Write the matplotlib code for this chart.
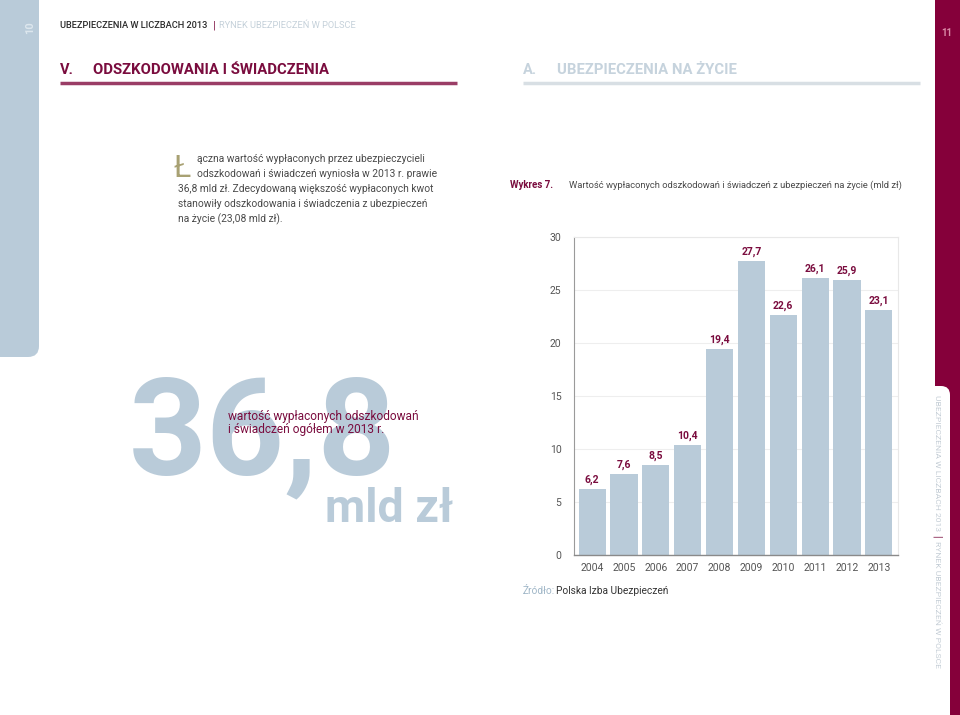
import matplotlib.pyplot as plt
from matplotlib.patches import FancyBboxPatch, Rectangle

# dane wykresu 7
lata = ['2004', '2005', '2006', '2007', '2008', '2009', '2010', '2011', '2012', '2013']
wartosci = [6.2, 7.6, 8.5, 10.4, 19.4, 27.7, 22.6, 26.1, 25.9, 23.1]
os_y = [0, 5, 10, 15, 20, 25, 30]

NIEBIESKI = '#b9cbd9'
BORDO = '#7a0c3e'
PASEK = '#85003a'
SZARY = '#4a4a4a'

plt.rcParams['font.family'] = ['Roboto', 'DejaVu Sans']

fig = plt.figure(figsize=(9.6, 7.15), dpi=100)

# tlo strony w pikselach
bg = fig.add_axes([0, 0, 1, 1])
bg.set_xlim(0, 960)
bg.set_ylim(715, 0)
bg.axis('off')

# paski boczne
bg.add_patch(FancyBboxPatch((-30, -30), 69, 387, boxstyle='round,pad=0,rounding_size=11',
                            fc=NIEBIESKI, ec='none'))
bg.add_patch(Rectangle((935, -5), 30, 730, fc=PASEK, ec='none'))
bg.add_patch(FancyBboxPatch((900, 386), 50, 360, boxstyle='round,pad=0,rounding_size=9',
                            fc='white', ec='none'))
bg.text(30, 28, '10', rotation=90, ha='center', va='center', fontsize=8, fontweight='bold', color='#dde7ee')
bg.text(947, 33, '11', ha='center', va='center', fontsize=7, fontweight='bold', color='#d98aa6')

# naglowek
bg.text(60, 25, 'UBEZPIECZENIA W LICZBACH 2013', ha='left', va='center', fontsize=6.7,
        fontweight='medium', color='#2a2a2a')
bg.text(214, 25, '|', ha='center', va='center', fontsize=8, color=BORDO)
bg.text(219, 25, 'RYNEK UBEZPIECZEŃ W POLSCE', ha='left', va='center', fontsize=6.7, color='#c5d1da')

bg.text(60, 70, 'V.', ha='left', va='center', fontsize=10.5, fontweight='bold', color=BORDO)
bg.text(93, 70, 'ODSZKODOWANIA I ŚWIADCZENIA', ha='left', va='center', fontsize=10.7,
        fontweight='bold', color=BORDO)
bg.plot([60, 457], [83, 83], color='#9a3d66', lw=2.5, solid_capstyle='butt')

bg.text(523, 70, 'A.', ha='left', va='center', fontsize=10.5, fontweight='bold', color='#c6d3dd')
bg.text(557, 70, 'UBEZPIECZENIA NA ŻYCIE', ha='left', va='center', fontsize=10.7,
        fontweight='bold', color='#c6d3dd')
bg.plot([523, 920], [83, 83], color='#d8dfe4', lw=2.5, solid_capstyle='butt')

# akapit z inicjalem
bg.text(173, 177, 'Ł', ha='left', va='baseline', fontsize=23, color='#a8a173')
akapit = [
    (197, 'ączna wartość wypłaconych przez ubezpieczycieli'),
    (197, 'odszkodowań i świadczeń wyniosła w 2013 r. prawie'),
    (178, '36,8 mld zł. Zdecydowaną większość wypłaconych kwot'),
    (178, 'stanowiły odszkodowania i świadczenia z ubezpieczeń'),
    (178, 'na życie (23,08 mld zł).'),
]
for i, (x, linia) in enumerate(akapit):
    bg.text(x, 162 + i * 15, linia, ha='left', va='baseline', fontsize=7.35, color=SZARY)

# duza liczba
bg.text(129, 474, '36,8', ha='left', va='baseline', fontsize=98, fontweight='bold', color=NIEBIESKI)
bg.text(325, 522, 'mld zł', ha='left', va='baseline', fontsize=33.5, fontweight='bold', color=NIEBIESKI)
bg.text(228, 420, 'wartość wypłaconych odszkodowań', ha='left', va='baseline', fontsize=8.6, color=BORDO)
bg.text(228, 433, 'i świadczeń ogółem w 2013 r.', ha='left', va='baseline', fontsize=8.6, color=BORDO)

# tytul wykresu
bg.text(510, 185, 'Wykres 7.', ha='left', va='center', fontsize=7, fontweight='bold', color=BORDO)
bg.text(569, 185, 'Wartość wypłaconych odszkodowań i świadczeń z ubezpieczeń na życie (mld zł)',
        ha='left', va='center', fontsize=6.75, color=SZARY)

# zrodlo
bg.text(523, 591, 'Źródło:', ha='left', va='center', fontsize=7.3, color='#9fb6c7')
bg.text(556, 591, 'Polska Izba Ubezpieczeń', ha='left', va='center', fontsize=7.3, color='#333333')

# tekst pionowy
bg.text(937, 395, 'UBEZPIECZENIA W LICZBACH 2013', rotation=-90, ha='center', va='top',
        fontsize=6.1, color='#c5ced6')
bg.text(937, 536, '|', rotation=-90, ha='center', va='center', fontsize=7, color=BORDO)
bg.text(937, 541, 'RYNEK UBEZPIECZEŃ W POLSCE', rotation=-90, ha='center', va='top',
        fontsize=6.1, color='#c5ced6')

# wykres slupkowy
ax = fig.add_axes([574 / 960, 1 - 555 / 715, 324 / 960, 318 / 715])
x = list(range(len(lata)))
ax.bar(x, wartosci, width=0.85, color=NIEBIESKI, zorder=2)
for xi, v in zip(x, wartosci):
    ax.annotate(f'{v:.1f}'.replace('.', ','), (xi, v), xytext=(0, 3), textcoords='offset points',
                ha='center', va='bottom', fontsize=7.5, fontweight='bold', color=BORDO)

ax.set_xlim(-0.57, 9.6)
ax.set_ylim(0, 30)
ax.set_xticks(x)
ax.set_xticklabels(lata)
ax.set_yticks(os_y)
ax.tick_params(axis='x', length=0, pad=6, labelsize=7.5, labelcolor='#555555')
ax.tick_params(axis='y', length=0, pad=9, labelsize=7.5, labelcolor='#555555')
ax.yaxis.grid(True, color='#eeeeee', lw=0.8)
ax.set_axisbelow(True)
ax.spines['left'].set_color('#9a9a9a')
ax.spines['left'].set_linewidth(0.8)
ax.spines['bottom'].set_color('#8a8a8a')
ax.spines['bottom'].set_linewidth(1.0)
for s in ['top', 'right']:
    ax.spines[s].set_color('#e8e8e8')
    ax.spines[s].set_linewidth(0.8)

fig.savefig('out.png', dpi=100)
